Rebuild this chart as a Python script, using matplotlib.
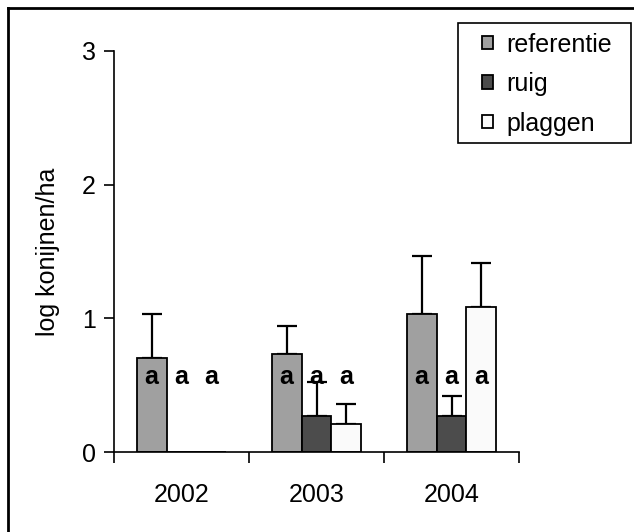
import matplotlib
matplotlib.use("Agg")
import matplotlib.pyplot as plt
import numpy as np
from matplotlib.lines import Line2D
from matplotlib.patches import Rectangle

plt.rcParams["font.family"] = ["Liberation Sans", "DejaVu Sans"]

# ── Data ──────────────────────────────────────────────────────────────────────
years = ["2002", "2003", "2004"]
treatments = ["referentie", "ruig", "plaggen"]

referentie = [0.70, 0.73, 1.03]
referentie_err = [0.33, 0.215, 0.44]
ruig = [0.0, 0.267, 0.267]
ruig_err = [0.0, 0.255, 0.15]
plaggen = [0.0, 0.207, 1.087]
plaggen_err = [0.0, 0.15, 0.33]

# significance letters per year, one per treatment
letters = [["a", "a", "a"], ["a", "a", "a"], ["a", "a", "a"]]
letter_y = 0.56

colors = ["#a0a0a0", "#4c4c4c", "#fafafa"]

# ── Figure ────────────────────────────────────────────────────────────────────
W, H = 634, 532
fig = plt.figure(figsize=(W / 100, H / 100), dpi=100)
ax = fig.add_axes([114 / W, 80 / H, 405 / W, 401 / H])

x = np.arange(len(years))
width = 0.222
offsets = [-width, 0.0, width]
series = [(referentie, referentie_err), (ruig, ruig_err), (plaggen, plaggen_err)]

for i, ((vals, errs), name) in enumerate(zip(series, treatments)):
    vals = np.asarray(vals)
    errs = np.asarray(errs)
    pos = x + offsets[i]
    ax.bar(pos, vals, width, color=colors[i], edgecolor="black",
           linewidth=1.3, label=name, zorder=2)
    show = vals > 0
    ax.errorbar(pos[show], vals[show], yerr=[np.zeros(show.sum()), errs[show]],
                fmt="none", ecolor="black", elinewidth=1.6, capsize=7,
                capthick=1.6, zorder=1)

for j, row in enumerate(letters):
    for i, lt in enumerate(row):
        ax.text(x[j] + offsets[i], letter_y, lt, ha="center", va="center",
                fontsize=18, fontweight="bold", zorder=5)

ax.set_xlim(-0.5, 2.5)
ax.set_ylim(0, 3)
ax.set_yticks([0, 1, 2, 3])
ax.tick_params(axis="y", direction="out", length=7, width=1.2, labelsize=18, pad=6)

ax.set_xticks(x)
ax.set_xticklabels(years)
ax.tick_params(axis="x", which="major", length=0, labelsize=18, pad=22)
ax.set_xticks([-0.5, 0.5, 1.5, 2.5], minor=True)
ax.tick_params(axis="x", which="minor", direction="out", length=8, width=1.2)

for side in ("top", "right"):
    ax.spines[side].set_visible(False)
for side in ("left", "bottom"):
    ax.spines[side].set_linewidth(1.2)

ax.set_ylabel("log konijnen/ha", fontsize=18, labelpad=16)

# legend box drawn separately so the inner padding can be wider than tall
ax.add_patch(Rectangle((458 / W, 1 - 143 / H), 173 / W, 120 / H,
                       facecolor="white", edgecolor="black", linewidth=1.2,
                       transform=fig.transFigure, clip_on=False, zorder=6))
leg = ax.legend(loc="upper left", bbox_to_anchor=(474 / W, 1 - 25 / H),
                bbox_transform=fig.transFigure, fontsize=18, frameon=False,
                handlelength=0.45, handleheight=0.45, handletextpad=0.55,
                labelspacing=0.62, borderpad=0.3, borderaxespad=0)
leg.set_zorder(7)

# outer frame: only left and top edges
fig.add_artist(Line2D([8 / W, 8 / W], [0, 1 - 8 / H], color="black",
                      linewidth=2, transform=fig.transFigure))
fig.add_artist(Line2D([8 / W, 1], [1 - 8 / H, 1 - 8 / H], color="black",
                      linewidth=2, transform=fig.transFigure))

fig.savefig("out.png", dpi=100)
